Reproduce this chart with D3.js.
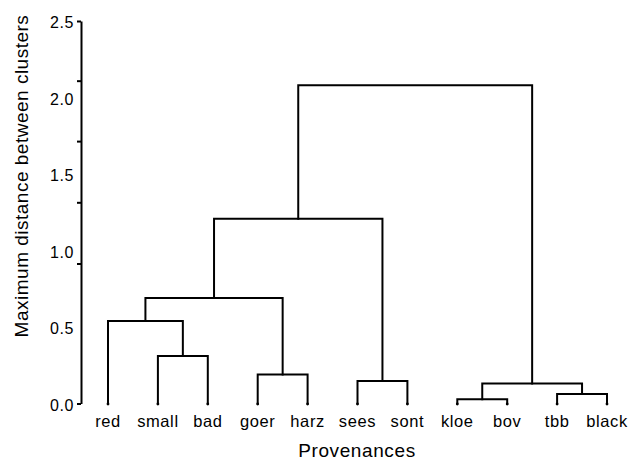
<!DOCTYPE html>
<html>
<head>
<meta charset="utf-8">
<script src="https://cdn.jsdelivr.net/npm/d3@7"></script>
<style>
  html, body { margin: 0; padding: 0; background: #fff; }
  svg { display: block; font-family: "Liberation Sans", Arial, Helvetica, sans-serif; }
</style>
</head>
<body>
<svg id="chart" width="635" height="460"></svg>
<script>
// Leaves of the dendrogram, left to right
const leaves = ["red", "small", "bad", "goer", "harz", "sees", "sont", "kloe", "bov", "tbb", "black"];

// Agglomeration steps: cluster id, its two members, and the joining distance
const clusterIds = ["sb", "rsb", "gh", "lft", "ss", "kb", "tb", "rgt", "mid", "root"];
const clusterMembers = [
  ["small", "bad"], ["red", "sb"], ["goer", "harz"], ["rsb", "gh"], ["sees", "sont"],
  ["kloe", "bov"], ["tbb", "black"], ["kb", "tb"], ["lft", "ss"], ["mid", "rgt"]
];
const clusterHeights = [0.31, 0.54, 0.19, 0.69, 0.147, 0.027, 0.062, 0.13, 1.207, 2.08];

// Axis labels and the tick marks drawn along the axis line
const yLabelValues = [0, 0.5, 1.0, 1.5, 2.0, 2.5];
const yTickMarks = [0, 0.915, 1.315, 1.715, 2.11, 2.5];

const svg = d3.select("#chart");

const x = d3.scalePoint().domain(leaves).range([108, 607]);
const y = d3.scaleLinear().domain([0, 2.5]).range([403.5, 21]);

// Build the tree from the merge table
const nodes = {};
leaves.forEach(name => { nodes[name] = { name, height: 0, children: null }; });
clusterIds.forEach((id, i) => {
  nodes[id] = { name: id, height: clusterHeights[i], children: clusterMembers[i].map(m => nodes[m]) };
});
const root = d3.hierarchy(nodes["root"]);

// Horizontal position: leaves on the point scale, clusters midway between members
root.eachAfter(n => {
  n.px = n.children ? (n.children[0].px + n.children[1].px) / 2 : x(n.data.name);
  n.py = y(n.data.height);
});

// Elbow connectors
svg.append("g")
  .selectAll("path")
  .data(root.descendants().filter(n => n.children))
  .join("path")
  .attr("fill", "none")
  .attr("stroke", "#000")
  .attr("stroke-width", 2)
  .attr("stroke-linejoin", "miter")
  .attr("stroke-linecap", "square")
  .attr("d", n => {
    const [a, b] = n.children;
    return `M${a.px},${a.py}V${n.py}H${b.px}V${b.py}`;
  });

// Small dots at the leaf ends
svg.append("g")
  .selectAll("circle")
  .data(root.leaves())
  .join("circle")
  .attr("cx", n => n.px)
  .attr("cy", n => n.py + 0.5)
  .attr("r", 1.4)
  .attr("fill", "#000");

// Leaf labels
svg.append("g")
  .selectAll("text")
  .data(leaves)
  .join("text")
  .attr("x", d => x(d))
  .attr("y", 426.5)
  .attr("text-anchor", "middle")
  .attr("font-size", 16.5)
  .attr("letter-spacing", 0.6)
  .attr("fill", "#000")
  .text(d => d);

// Y axis: line with tick marks
const axisX = 81;
const tickAxis = svg.append("g")
  .attr("transform", `translate(${axisX},0)`)
  .call(d3.axisLeft(y).tickValues(yTickMarks).tickSize(4).tickSizeOuter(0).tickFormat(""));
tickAxis.select(".domain").attr("stroke", "#000").attr("stroke-width", 2);
tickAxis.selectAll(".tick line").attr("stroke", "#000").attr("stroke-width", 2);

// Y axis labels
const labelAxis = svg.append("g")
  .attr("transform", `translate(${axisX - 7},0)`)
  .call(d3.axisLeft(y).tickValues(yLabelValues).tickSize(0).tickFormat(d3.format(".1f")));
labelAxis.select(".domain").remove();
labelAxis.selectAll(".tick text")
  .attr("x", 0)
  .attr("dy", "0.42em")
  .attr("font-family", "'Liberation Sans', Arial, Helvetica, sans-serif")
  .attr("font-size", 16)
  .attr("letter-spacing", 0.6)
  .attr("fill", "#000");

// Axis titles
svg.append("text")
  .attr("transform", "translate(28,176) rotate(-90)")
  .attr("text-anchor", "middle")
  .attr("font-size", 19)
  .attr("letter-spacing", 0.5)
  .attr("fill", "#000")
  .text("Maximum distance between clusters");

svg.append("text")
  .attr("x", 357)
  .attr("y", 457)
  .attr("text-anchor", "middle")
  .attr("font-size", 19)
  .attr("letter-spacing", 0.6)
  .attr("fill", "#000")
  .text("Provenances");
</script>
</body>
</html>
